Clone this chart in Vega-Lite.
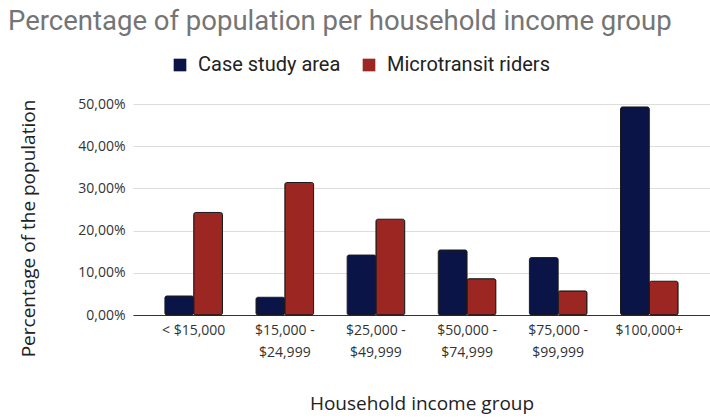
{
  "$schema": "https://vega.github.io/schema/vega-lite/v6.json",
  "width": 577,
  "height": 211,
  "autosize": {"type": "none"},
  "padding": {"left": 133, "top": 104, "right": 0, "bottom": 104},
  "background": "white",
  "title": {
    "text": "Percentage of population per household income group",
    "anchor": "start",
    "frame": "group",
    "dx": -125,
    "offset": 20,
    "font": "Roboto",
    "fontSize": 27.5,
    "fontWeight": "normal",
    "color": "#757575"
  },
  "data": {
    "values": [
      {"group": "< $15,000", "series": "Case study area", "value": 0.045},
      {"group": "< $15,000", "series": "Microtransit riders", "value": 0.243},
      {"group": "$15,000 - $24,999", "series": "Case study area", "value": 0.042},
      {"group": "$15,000 - $24,999", "series": "Microtransit riders", "value": 0.314},
      {"group": "$25,000 - $49,999", "series": "Case study area", "value": 0.142},
      {"group": "$25,000 - $49,999", "series": "Microtransit riders", "value": 0.227},
      {"group": "$50,000 - $74,999", "series": "Case study area", "value": 0.154},
      {"group": "$50,000 - $74,999", "series": "Microtransit riders", "value": 0.086},
      {"group": "$75,000 - $99,999", "series": "Case study area", "value": 0.136},
      {"group": "$75,000 - $99,999", "series": "Microtransit riders", "value": 0.057},
      {"group": "$100,000+", "series": "Case study area", "value": 0.493},
      {"group": "$100,000+", "series": "Microtransit riders", "value": 0.080}
    ]
  },
  "mark": {"type": "bar", "cornerRadius": 2, "stroke": "#1a1a1a", "strokeWidth": 1},
  "encoding": {
    "x": {
      "field": "group",
      "type": "nominal",
      "sort": null,
      "scale": {"paddingInner": 0.368, "paddingOuter": 0.35},
      "axis": {
        "title": "Household income group",
        "titleFont": "Open Sans",
        "titleFontSize": 19,
        "titleFontWeight": "normal",
        "titleColor": "#222",
        "titlePadding": 35,
        "labelAngle": 0,
        "labelFont": "Open Sans",
        "labelFontSize": 14,
        "labelColor": "#333",
        "labelPadding": 8,
        "labelLineHeight": 22,
        "labelExpr": "split(replace(datum.value, ' - ', ' -|'), '|')",
        "ticks": false,
        "domainColor": "#333",
        "domainWidth": 1.2
      }
    },
    "xOffset": {"field": "series", "type": "nominal", "scale": {"paddingInner": 0, "paddingOuter": 0}},
    "y": {
      "field": "value",
      "type": "quantitative",
      "scale": {"domain": [0, 0.5], "nice": false},
      "axis": {
        "title": "Percentage of the population",
        "titleFont": "Open Sans",
        "titleFontSize": 19,
        "titleFontWeight": "normal",
        "titleColor": "#222",
        "titleX": -105,
        "titleY": 124,
        "titleAngle": -90,
        "titleAlign": "center",
        "titleBaseline": "middle",
        "values": [0, 0.1, 0.2, 0.3, 0.4, 0.5],
        "labelExpr": "replace(format(datum.value, '.2%'), '.', ',')",
        "labelFont": "Open Sans",
        "labelFontSize": 14,
        "labelColor": "#333",
        "labelPadding": 8,
        "ticks": false,
        "domain": false,
        "gridColor": "#dddddd",
        "gridWidth": 1.2
      }
    },
    "color": {
      "field": "series",
      "type": "nominal",
      "scale": {"domain": ["Case study area", "Microtransit riders"], "range": ["#0b1446", "#9b2622"]},
      "legend": {
        "title": null,
        "orient": "none",
        "direction": "horizontal",
        "legendX": 37,
        "legendY": -49,
        "symbolType": "square",
        "symbolSize": 160,
        "symbolStrokeWidth": 0,
        "labelFont": "Roboto",
        "labelFontSize": 20,
        "labelLimit": 400,
        "labelColor": "#222",
        "columnPadding": 18,
        "labelOffset": 8
      }
    }
  },
  "config": {"view": {"stroke": null}}
}
